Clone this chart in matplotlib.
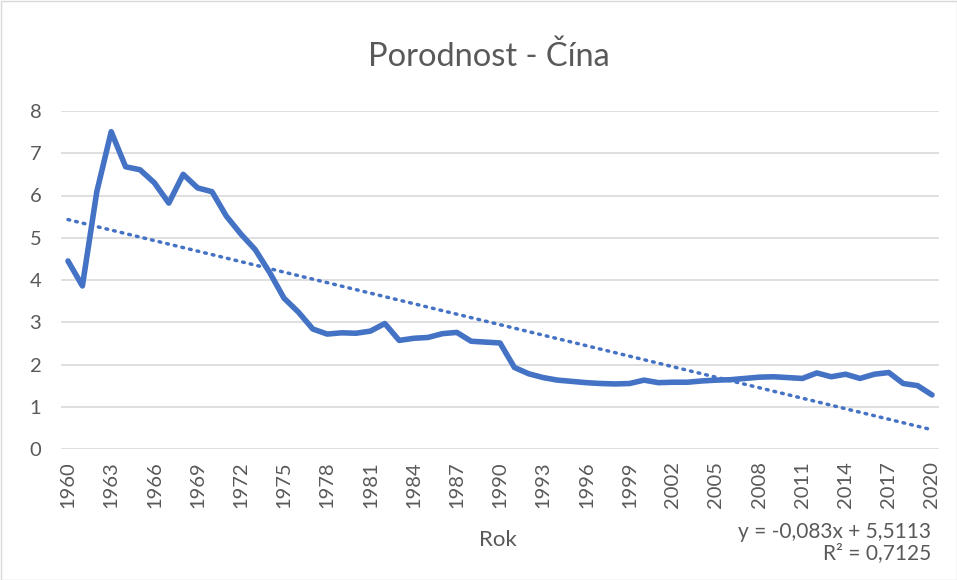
import numpy as np
import matplotlib
matplotlib.use("Agg")
import matplotlib.pyplot as plt
from matplotlib.patches import Rectangle

years = list(range(1960, 2021))
fertility = [4.45, 3.86, 6.09, 7.51, 6.68, 6.61, 6.30, 5.82, 6.50, 6.18,
             6.09, 5.51, 5.09, 4.72, 4.18, 3.57, 3.24, 2.84, 2.72, 2.75,
             2.74, 2.79, 2.97, 2.57, 2.62, 2.64, 2.73, 2.76, 2.55, 2.53,
             2.51, 1.93, 1.78, 1.69, 1.63, 1.60, 1.57, 1.55, 1.54, 1.55,
             1.63, 1.57, 1.58, 1.58, 1.61, 1.63, 1.64, 1.67, 1.70, 1.71,
             1.69, 1.67, 1.80, 1.71, 1.77, 1.67, 1.77, 1.81, 1.55, 1.50,
             1.28]
tick_years = list(range(1960, 2021, 3))
title = "Porodnost - Čína"
xlabel = "Rok"
eq_text = "y = -0,083x + 5,5113"
r2_text = "R² = 0,7125"

plt.rcParams['font.family'] = ['Lato', 'DejaVu Sans']
txt = '#595959'
blue = '#4472C4'

fig = plt.figure(figsize=(9.57, 5.8), dpi=100)
ax = fig.add_axes([60.8/957, 1-449/580, (939.2-60.8)/957, (449-111)/580])

x = np.array(years)
y = np.array(fertility)
ax.plot(x, y, color=blue, lw=4.0, solid_joinstyle='round', solid_capstyle='round', zorder=3)

idx = np.arange(1, len(x)+1)
k, b = np.polyfit(idx, y, 1)
ax.plot(x, k*idx + b, color=blue, lw=2.5, linestyle=(0, (0.5, 1.75)),
        dash_capstyle='round', zorder=2)

ax.set_xlim(1959.5, 2020.5)
ax.set_ylim(0, 8)
ax.set_yticks(range(0, 9))
ax.set_xticks(tick_years)
ax.set_xticklabels([str(t) for t in tick_years], rotation=90)
ax.grid(axis='y', color='#D9D9D9', lw=1.2)
ax.set_axisbelow(True)
for s in ax.spines.values():
    s.set_visible(False)
ax.tick_params(axis='both', length=0, labelsize=14.5, colors=txt)
ax.tick_params(axis='x', pad=9)
ax.tick_params(axis='y', pad=14)

fig.text(489/957, 1-57/580, title, ha='center', va='center', fontsize=23.5, color=txt)
fig.text(498/957, 1-540/580, xlabel, ha='center', va='center', fontsize=16, color=txt)
fig.text(931/957, 1-532/580, eq_text, ha='right', va='center', fontsize=15, color=txt)
fig.text(931/957, 1-553/580, r2_text, ha='right', va='center', fontsize=15, color=txt)

fig.patches.append(Rectangle((0.5/957, 0.5/580), 1-1/957, 1-1/580, transform=fig.transFigure,
                             fill=False, edgecolor='#D9D9D9', lw=1))

fig.savefig("out.png", dpi=100)
